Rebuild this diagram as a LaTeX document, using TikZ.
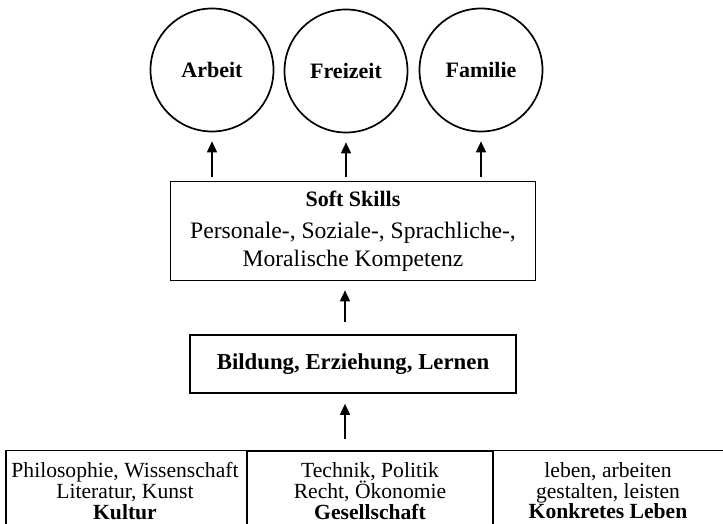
\documentclass[tikz,border=0pt]{standalone}
\usepackage{fontspec}
\setmainfont{Liberation Serif}
\usetikzlibrary{arrows.meta}

\tikzset{
  circ/.style={draw, circle, line width=1.7pt, minimum size=123pt, inner sep=0pt,
    font=\fontsize{22}{24}\selectfont\bfseries},
  bigbox/.style={draw, line width=1.7pt, minimum width=365pt, minimum height=99pt,
    inner sep=0pt, align=center, font=\fontsize{23.6}{28}\selectfont},
  smallbox/.style={draw, line width=1.7pt, minimum width=326pt, minimum height=58pt,
    inner sep=0pt, font=\fontsize{22.8}{24}\selectfont\bfseries},
  cell/.style={align=center, inner sep=0pt, font=\fontsize{21.6}{20.6}\selectfont},
  up/.style={-{Triangle[length=11pt,width=10pt]}, line width=1.6pt},
}

\begin{document}
\begin{tikzpicture}[x=1pt, y=1pt]
	\useasboundingbox (0,0) rectangle (723,524);
	
	% life areas
	\node[circ] (arbeit) at (212,454) {Arbeit};
	\node[circ] (freizeit) at (346,453) {Freizeit};
	\node[circ] (familie) at (481,454) {Familie};
	
	% competences
	\node[bigbox] (soft) at (353,293) {\raisebox{4pt}{\textbf{\fontsize{22}{28}\selectfont Soft Skills}}\\
		Personale-, Soziale-, Sprachliche-,\\ Moralische Kompetenz};
	\node[smallbox] (bildung) at (353,160) {Bildung, Erziehung, Lernen};
	
	% base table
	\draw[line width=1.1pt] (6,-5) |- (723,73.3);
	\draw[line width=1.8pt] (247,-5) rectangle (493,73.3);
	\node[cell] (kultur) at (125,33) {Philosophie, Wissenschaft\\ Literatur, Kunst\\ \textbf{Kultur}};
	\node[cell] (gesell) at (370,33) {Technik, Politik\\ Recht, Ökonomie\\ \textbf{Gesellschaft}};
	\node[cell] (leben) at (608,33) {leben, arbeiten\\ gestalten, leisten\\ \textbf{Konkretes Leben}};
	\coordinate (tabtop) at (345,73.3);
	
	% arrows
	\foreach \n in {arbeit, freizeit, familie}
		\draw[up, shorten <=4pt, shorten >=9pt] (soft.north -| \n) -- (\n.south);
	\draw[up, shorten <=12pt, shorten >=9pt] (bildung.north -| tabtop) -- (soft.south -| tabtop);
	\draw[up, shorten <=12pt, shorten >=10pt] (tabtop) -- (bildung.south -| tabtop);
\end{tikzpicture}
\end{document}
